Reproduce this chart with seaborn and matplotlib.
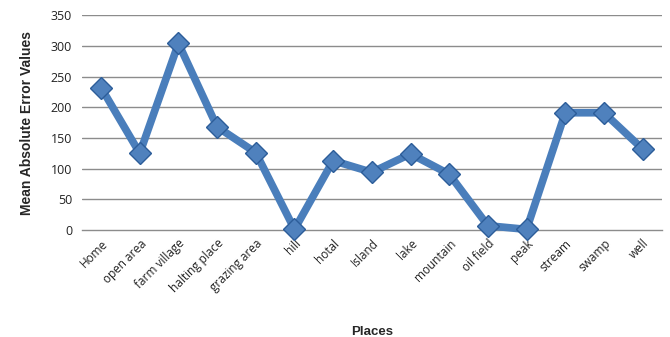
import matplotlib
matplotlib.use("Agg")
import matplotlib.pyplot as plt
import seaborn as sns
import pandas as pd
import numpy as np

places = ["Home", "open area", "farm village", "halting place", "grazing area",
          "hill", "hotal", "Island", "lake", "mountain", "oil field", "peak",
          "stream", "swamp", "well"]
mae_values = [232, 125, 304, 168, 126, 1, 113, 94, 124, 91, 7, 1, 191, 191, 132]
y_ticks = [0, 50, 100, 150, 200, 250, 300, 350]

sns.set_style("white")
plt.rcParams["font.family"] = ["Open Sans", "DejaVu Sans"]

df = pd.DataFrame({"pos": np.arange(len(places)), "value": mae_values})

fig = plt.figure(figsize=(6.7, 3.37), dpi=100)
ax = fig.add_axes([0.122, 0.3175, 0.866, 0.6375])

ax.set_ylim(0, 350)
ax.set_xlim(-0.5, len(places) - 0.5)
ax.set_yticks(y_ticks)
for t in y_ticks[1:]:
    ax.axhline(t, color="#8c8c8c", lw=1.0, zorder=0)

sns.lineplot(data=df, x="pos", y="value", ax=ax, color="#4a7ebb", lw=5.5,
             marker="D", markersize=11, markerfacecolor="#4f81bd",
             markeredgecolor="#2c5d99", markeredgewidth=1.0, clip_on=False,
             zorder=3)

ax.set_xticks(np.arange(len(places)))
ax.set_xticklabels(places, rotation=45, ha="right", rotation_mode="anchor",
                   fontsize=8.5, color="#222222")
ax.set_xticks(np.arange(-0.5, len(places), 1.0), minor=True)
ax.tick_params(axis="x", which="major", length=0, pad=5)
ax.tick_params(axis="x", which="minor", length=5, color="#8c8c8c", width=1)
ax.tick_params(axis="y", length=4, color="#8c8c8c", labelsize=9, pad=3,
               labelcolor="#222222")

for side in ["top", "right", "left"]:
    ax.spines[side].set_visible(False)
ax.spines["bottom"].set_color("#8c8c8c")
ax.spines["bottom"].set_linewidth(1.0)

ax.set_xlabel("Places", fontsize=9.5, fontweight="bold", labelpad=22,
              family=["Liberation Sans", "DejaVu Sans"])
ax.set_ylabel("Mean Absolute Error Values", fontsize=10, fontweight="bold",
              labelpad=12, family=["Liberation Sans", "DejaVu Sans"])

fig.savefig("out.png", dpi=100)
